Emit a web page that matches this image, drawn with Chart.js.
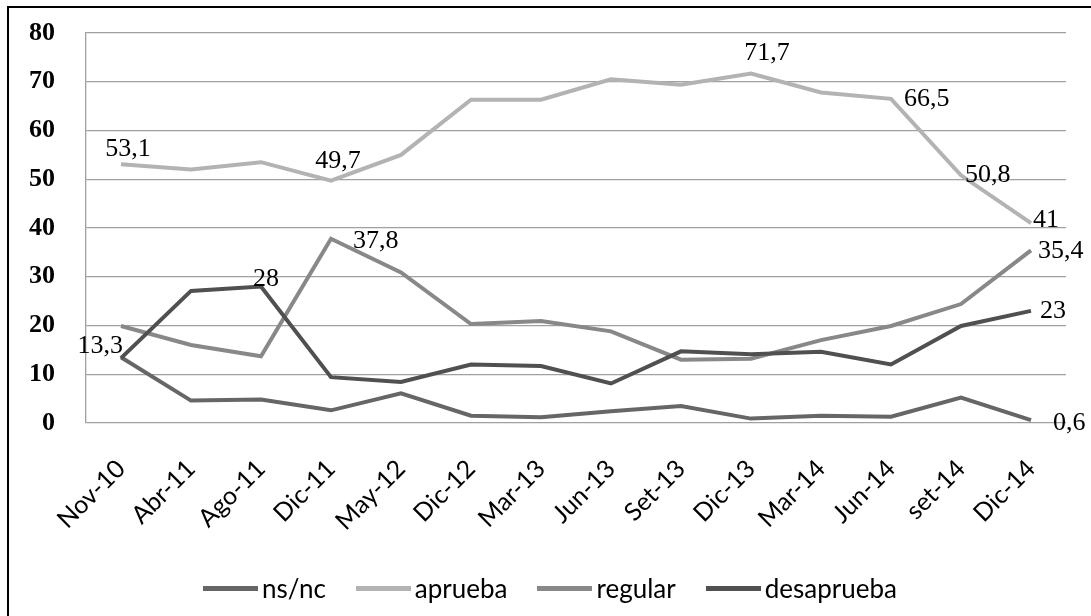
<!DOCTYPE html>
<html lang="es">
<head>
  <meta charset="UTF-8" />
  <title>Aprobación</title>
  <script src="https://cdn.jsdelivr.net/npm/chart.js"></script>
  <style>
    html, body {
      margin: 0;
      padding: 0;
      background: #fff;
      overflow: hidden;
    }

    #frame {
      position: absolute;
      left: 7px;
      top: 6px;
      width: 1200px;
      height: 700px;
      border: 2px solid #000;
    }

    #chartBox {
      position: absolute;
      left: 0;
      top: 0;
      width: 1091px;
      height: 616px;
    }

    #legend {
      position: absolute;
      left: 9px;
      right: 0;
      top: 572px;
      display: flex;
      justify-content: center;
      font-family: Lato, sans-serif;
      font-size: 26px;
      color: #000;
    }

    .item {
      display: flex;
      align-items: center;
      margin: 0 15px;
    }

    .swatch {
      width: 55px;
      height: 5px;
      margin-right: 4px;
    }
  </style>
</head>
<body>
  <div id="frame"></div>
  <div id="chartBox"><canvas id="chart" width="1091" height="616"></canvas></div>
  <div id="legend"></div>

  <script>
    const categories = ["Nov-10", "Abr-11", "Ago-11", "Dic-11", "May-12", "Dic-12", "Mar-13",
      "Jun-13", "Set-13", "Dic-13", "Mar-14", "Jun-14", "set-14", "Dic-14"];

    const nsnc       = [13.5, 4.6, 4.8, 2.6, 6.1, 1.5, 1.2, 2.4, 3.5, 0.9, 1.5, 1.3, 5.2, 0.6];
    const aprueba    = [53.1, 52.0, 53.5, 49.7, 55.0, 66.3, 66.3, 70.5, 69.4, 71.7, 67.8, 66.5, 50.8, 41];
    const regular    = [19.9, 16.0, 13.7, 37.8, 30.9, 20.3, 20.9, 18.8, 13.0, 13.2, 17.0, 19.9, 24.4, 35.4];
    const desaprueba = [13.3, 27.1, 28, 9.4, 8.4, 12.0, 11.7, 8.1, 14.7, 14.1, 14.6, 12.0, 19.9, 23];

    const yTicks = [0, 10, 20, 30, 40, 50, 60, 70, 80];

    const seriesNames = ["ns/nc", "aprueba", "regular", "desaprueba"];
    const seriesColors = ["#666666", "#b3b3b3", "#888888", "#505050"];

    // which points get a value label, and where it sits relative to the point
    const pointLabels = [
      { ds: 1, i: 0, dx: 7, dy: -15, align: "center" },
      { ds: 1, i: 3, dx: 7, dy: -20, align: "center" },
      { ds: 1, i: 9, dx: 16, dy: -20, align: "center" },
      { ds: 1, i: 11, dx: 13, dy: 0, align: "left" },
      { ds: 1, i: 12, dx: 4, dy: 0, align: "left" },
      { ds: 1, i: 13, dx: 2, dy: -3, align: "left" },
      { ds: 2, i: 3, dx: 22, dy: 2, align: "left" },
      { ds: 2, i: 13, dx: 7, dy: 1, align: "left" },
      { ds: 3, i: 0, dx: 2, dy: -12, align: "right" },
      { ds: 3, i: 2, dx: 5, dy: -7, align: "center" },
      { ds: 3, i: 13, dx: 9, dy: 0, align: "left" },
      { ds: 0, i: 13, dx: 22, dy: 3, align: "left" }
    ];

    const valueLabels = {
      id: "valueLabels",
      afterDatasetsDraw(chart) {
        const c = chart.ctx;
        c.save();
        c.font = "26px 'Liberation Serif', serif";
        c.fillStyle = "#000";
        c.textBaseline = "middle";
        pointLabels.forEach(l => {
          const pt = chart.getDatasetMeta(l.ds).data[l.i];
          const v = chart.data.datasets[l.ds].data[l.i];
          c.textAlign = l.align;
          c.fillText(String(v).replace(".", ","), pt.x + l.dx, pt.y + l.dy);
        });
        c.restore();
      }
    };

    const allSeries = [nsnc, aprueba, regular, desaprueba];
    const datasets = allSeries.map((d, k) => ({
      label: seriesNames[k],
      data: d,
      borderColor: seriesColors[k],
      backgroundColor: seriesColors[k],
      borderWidth: 4,
      pointRadius: 0,
      tension: 0,
      order: 3 - k
    }));

    new Chart(document.getElementById("chart"), {
      type: "line",
      data: { labels: categories, datasets: datasets },
      options: {
        responsive: false,
        animation: false,
        layout: { padding: { top: 33, right: 25, left: 0, bottom: 0 } },
        scales: {
          x: {
            offset: true,
            grid: { display: false, drawTicks: false },
            border: { display: false },
            ticks: {
              autoSkip: false,
              minRotation: 45,
              maxRotation: 45,
              padding: 31,
              color: "#000",
              font: { family: "Lato", size: 25 }
            },
            afterFit(scale) { scale.height = 193; }
          },
          y: {
            min: 0,
            max: 80,
            afterBuildTicks(scale) { scale.ticks = yTicks.map(v => ({ value: v })); },
            grid: { color: "#a0a0a0", lineWidth: 1.3, drawTicks: false },
            border: { display: true, color: "#a0a0a0", width: 1.3 },
            ticks: {
              padding: 31,
              color: "#000",
              font: { family: "Liberation Serif", size: 26, weight: "bold" }
            },
            afterFit(scale) {
              scale.width = 86;
              scale.paddingTop = 14;
              scale.paddingBottom = 14;
            }
          }
        },
        plugins: {
          legend: { display: false },
          tooltip: { enabled: false }
        }
      },
      plugins: [valueLabels]
    });

    const legend = document.getElementById("legend");
    seriesNames.forEach((name, k) => {
      const item = document.createElement("div");
      item.className = "item";
      const sw = document.createElement("span");
      sw.className = "swatch";
      sw.style.background = seriesColors[k];
      const txt = document.createElement("span");
      txt.textContent = name;
      item.appendChild(sw);
      item.appendChild(txt);
      legend.appendChild(item);
    });
  </script>
</body>
</html>
